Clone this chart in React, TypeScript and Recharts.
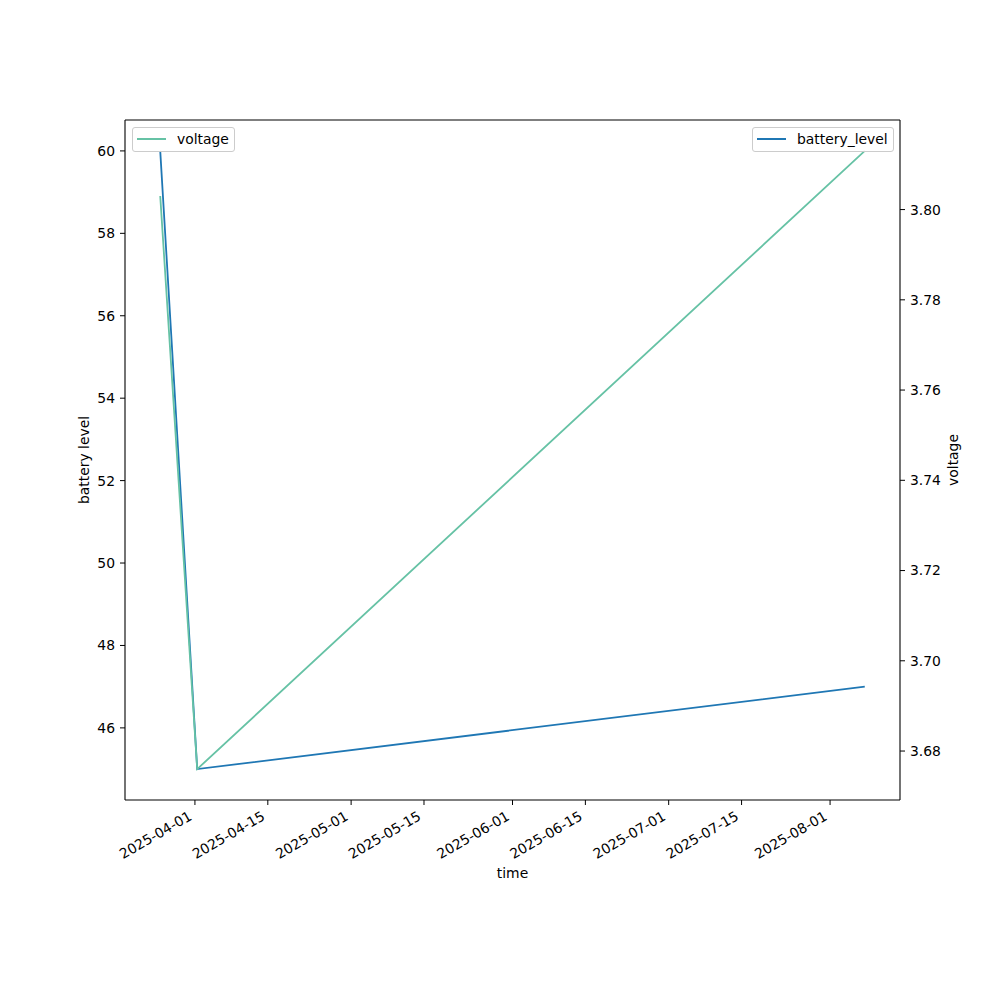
import { LineChart, Line, XAxis, YAxis, Legend, ReferenceLine } from 'recharts';

const FONT = '"DejaVu Sans", sans-serif';
const BLUE = '#1f77b4';
const GREEN = '#66c2a5';

// readings
const times = ['2025-03-25T08:00:00Z', '2025-04-01T10:30:00Z', '2025-08-07T16:00:00Z'];
const batteryLevel = [60, 45, 47];
const voltage = [3.803, 3.676, 3.813];

// tick labels
const timeTicks = [
  '2025-04-01', '2025-04-15', '2025-05-01', '2025-05-15', '2025-06-01',
  '2025-06-15', '2025-07-01', '2025-07-15', '2025-08-01',
];
const batteryTicks = [46, 48, 50, 52, 54, 56, 58, 60];
const voltageTicks = [3.68, 3.7, 3.72, 3.74, 3.76, 3.78, 3.8];

const data = times.map((t, i) => ({
  t: Date.parse(t),
  battery_level: batteryLevel[i],
  voltage: voltage[i],
}));

// matplotlib-style 5% margins
const pad = (vals: number[]) => {
  const lo = Math.min(...vals);
  const hi = Math.max(...vals);
  const m = (hi - lo) * 0.05;
  return [lo - m, hi + m];
};

const xDomain = pad(data.map((d) => d.t));
const batteryDomain = pad(batteryLevel);
const voltageDomain = pad(voltage);
const xTickValues = timeTicks.map((d) => Date.parse(d + 'T00:00:00Z'));

const XTick = (props: any) => {
  const { x, y, payload } = props;
  const tx = x - 2;
  const ty = y + 14;
  return (
    <text
      x={tx}
      y={ty}
      transform={`rotate(-30, ${tx}, ${ty})`}
      textAnchor="end"
      fontFamily={FONT}
      fontSize={13.9}
      fill="#000"
    >
      {new Date(payload.value).toISOString().slice(0, 10)}
    </text>
  );
};

const legendBox = (left: number, width: number, color: string, label: string) => (
  <div
    style={{
      position: 'absolute',
      left,
      top: 127,
      width,
      height: 25,
      boxSizing: 'border-box',
      border: '1px solid #cccccc',
      borderRadius: 3,
      background: 'rgba(255,255,255,0.8)',
      fontFamily: FONT,
      fontSize: 13.9,
      color: '#000',
    }}
  >
    <div
      style={{
        position: 'absolute',
        left: 4,
        top: 10,
        width: 29,
        height: 2,
        background: color,
      }}
    />
    <div style={{ position: 'absolute', left: 44, top: 3, lineHeight: '17px', whiteSpace: 'nowrap' }}>
      {label}
    </div>
  </div>
);

const renderLegend = () => (
  <div style={{ position: 'relative', width: 1000, height: 0 }}>
    {legendBox(132, 103, GREEN, 'voltage')}
    {legendBox(752, 142, BLUE, 'battery_level')}
  </div>
);

const tickStyle = { fontFamily: FONT, fontSize: 13.9, fill: '#000' };

export default function App() {
  return (
    <div style={{ position: 'absolute', left: 0, top: 0, width: 1000, height: 1000, background: '#fff' }}>
      <LineChart
        width={1000}
        height={1000}
        data={data}
        margin={{ top: 120, right: 30, bottom: 100, left: 60 }}
      >
        <XAxis
          dataKey="t"
          type="number"
          domain={xDomain}
          allowDataOverflow
          ticks={xTickValues}
          interval={0}
          tick={<XTick />}
          tickSize={5}
          tickMargin={0}
          height={100}
          stroke="#000"
          tickLine={{ stroke: '#000' }}
          axisLine={{ stroke: '#000', strokeWidth: 1.1 }}
          label={{
            content: (p: any) => (
              <text
                x={p.viewBox.x + p.viewBox.width / 2}
                y={p.viewBox.y + 78}
                textAnchor="middle"
                fontFamily={FONT}
                fontSize={13.9}
                fill="#000"
              >
                time
              </text>
            ),
          }}
        />
        <YAxis
          yAxisId="left"
          type="number"
          domain={batteryDomain}
          allowDataOverflow
          ticks={batteryTicks}
          interval={0}
          width={65}
          tickSize={5}
          tickMargin={5}
          tick={tickStyle}
          tickLine={{ stroke: '#000' }}
          axisLine={{ stroke: '#000', strokeWidth: 1.1 }}
          label={{
            content: (p: any) => {
              const cx = p.viewBox.x + 29;
              const cy = p.viewBox.y + p.viewBox.height / 2;
              return (
                <text
                  x={cx}
                  y={cy}
                  transform={`rotate(-90, ${cx}, ${cy})`}
                  textAnchor="middle"
                  fontFamily={FONT}
                  fontSize={13.9}
                  fill="#000"
                >
                  battery level
                </text>
              );
            },
          }}
        />
        <YAxis
          yAxisId="right"
          orientation="right"
          type="number"
          domain={voltageDomain}
          allowDataOverflow
          ticks={voltageTicks}
          interval={0}
          tickFormatter={(v: number) => v.toFixed(2)}
          width={70}
          tickSize={5}
          tickMargin={5}
          tick={tickStyle}
          tickLine={{ stroke: '#000' }}
          axisLine={{ stroke: '#000', strokeWidth: 1.1 }}
          label={{
            content: (p: any) => {
              const cx = p.viewBox.x + 58;
              const cy = p.viewBox.y + p.viewBox.height / 2;
              return (
                <text
                  x={cx}
                  y={cy}
                  transform={`rotate(-90, ${cx}, ${cy})`}
                  textAnchor="middle"
                  fontFamily={FONT}
                  fontSize={13.9}
                  fill="#000"
                >
                  voltage
                </text>
              );
            },
          }}
        />
        {/* top spine */}
        <ReferenceLine yAxisId="left" y={batteryDomain[1]} stroke="#000" strokeWidth={1.1} ifOverflow="visible" />
        <Legend
          layout="horizontal"
          verticalAlign="middle"
          align="center"
          content={renderLegend}
          wrapperStyle={{ position: 'absolute', left: 0, top: 0, width: 1000, height: 0 }}
        />
        <Line
          yAxisId="left"
          dataKey="battery_level"
          type="linear"
          stroke={BLUE}
          strokeWidth={1.8}
          dot={false}
          activeDot={false}
          isAnimationActive={false}
        />
        <Line
          yAxisId="right"
          dataKey="voltage"
          type="linear"
          stroke={GREEN}
          strokeWidth={1.8}
          dot={false}
          activeDot={false}
          isAnimationActive={false}
        />
      </LineChart>
    </div>
  );
}
